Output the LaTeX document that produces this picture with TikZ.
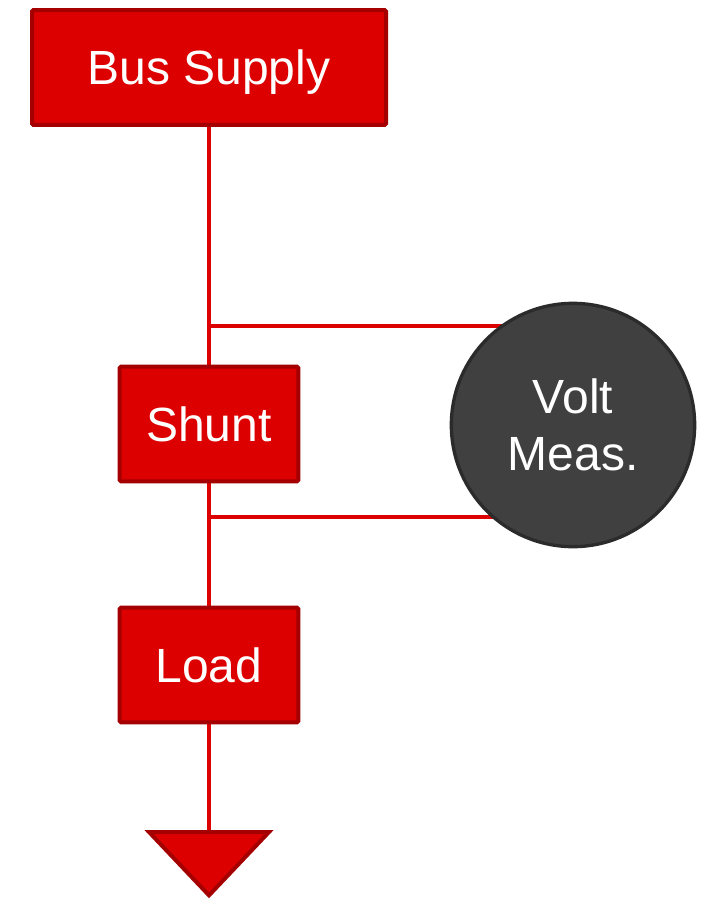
\documentclass[tikz,border=0pt]{standalone}
\usepackage{fontspec}
\setmainfont{Liberation Sans}
\usetikzlibrary{positioning, backgrounds, shapes}
\definecolor{boxred}{HTML}{DD0000}
\definecolor{edgered}{HTML}{A50000}
\definecolor{meterfill}{HTML}{404040}
\definecolor{meteredge}{HTML}{2B2B2B}

\begin{document}
\begin{tikzpicture}[x=0.75pt, y=-0.75pt,
  every node/.style={font=\fontsize{36}{43}\selectfont, text=white},
  block/.style={draw=edgered, fill=boxred, line width=3pt, rounded corners=1pt,
    minimum height=86pt, text height=25.8pt, text depth=0pt},
  wire/.style={draw=boxred, line width=3.5pt,
    preaction={draw=black!18, transform canvas={shift={(1.3pt,-1.3pt)}}}},
  meter/.style={circle, draw=meteredge, fill=meterfill, line width=2.5pt,
    minimum size=182.5pt, inner sep=0pt, align=center},
  ground/.style={draw=edgered, fill=boxred, line width=3pt, line join=miter}]
\useasboundingbox (0,0) rectangle (704,900);

\node [block, minimum width=265.5pt] (bus) at (209,67.5) {Bus Supply};
\node [block, minimum width=134pt] (shunt) at (209,424) {Shunt};
\node [block, minimum width=134pt] (load) at (209,665) {Load};
\node [meter] (volt) at (573,425) {Volt\\Meas.};

\coordinate (gnd) at (209,832);
\coordinate (tapT) at (209,326);
\coordinate (tapB) at (209,517);

% supply line and the two taps across the shunt
\begin{scope}[on background layer]
\draw [wire] (bus) -- (shunt) -- (load) -- (gnd);
\draw [wire] (tapT) -- (tapT -| volt.center);
\draw [wire] (tapB) -- (tapB -| volt.center);
\end{scope}

\draw [ground] ([xshift=-45pt]gnd) -- ([xshift=45pt]gnd) -- ([yshift=-47.5pt]gnd) -- cycle;
\end{tikzpicture}
\end{document}
